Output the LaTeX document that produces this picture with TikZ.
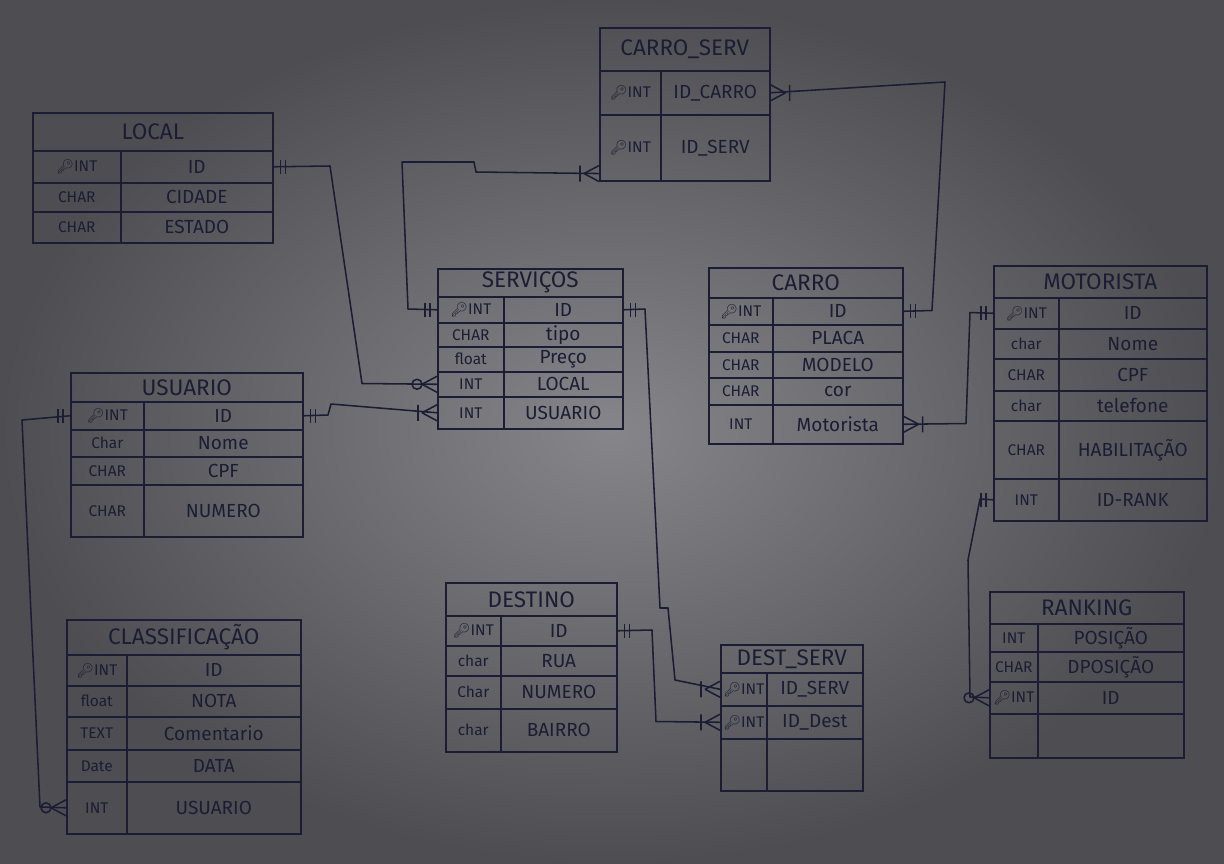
\documentclass[tikz,border=0pt]{standalone}
\usepackage{fontspec}
\setmainfont{Fira Sans}
\newfontfamily\emofont{Noto Emoji}
\usepackage{tikz}
\usetikzlibrary{arrows.meta,positioning,calc}
\definecolor{ink}{RGB}{28,28,52}
\definecolor{bgin}{RGB}{134,134,138}
\definecolor{bgout}{RGB}{78,78,82}
\newcommand{\pk}{{\emofont\fontsize{10}{10}\selectfont 🔑}}
\newcommand{\ehead}[6]{\node[hdr, minimum width={(#3-#2)*0.025cm}, minimum height={(#5-#4)*0.025cm}] (#1) at (#2,#4) {#6};}
\newcommand{\erow}[8]{\node[tcell, minimum width={(#3-#2)*0.025cm}, minimum height={(#6-#5)*0.025cm}] (#1-t) at (#2,#5) {#7};
  \node[fcell, minimum width={(#4-#3)*0.025cm}, minimum height={(#6-#5)*0.025cm}] (#1) at (#3,#5) {#8};}
\tikzset{
  hdr/.style={draw=ink, line width=1.1pt, inner sep=0pt, anchor=north west, text=ink, font=\fontsize{16}{17}\selectfont},
  tcell/.style={hdr, font=\fontsize{11}{12}\selectfont},
  fcell/.style={hdr, font=\fontsize{13.5}{15}\selectfont},
  link/.style={draw=ink, line width=1.1pt, line join=round},
  erone/.pic={\draw[link] (-7,-7)--(-7,7) (-12,-7)--(-12,7);},
  ermany/.pic={\draw[link] (-15,0)--(0,-8) (-15,0)--(0,8) (-19,-8)--(-19,8);},
  erzero/.pic={\draw[link] (-15,0)--(0,-8) (-15,0)--(0,8); \draw[link] (-20,0) circle[radius=5];},
}
\begin{document}
\begin{tikzpicture}[x=0.025cm, y=-0.025cm]
\shade[inner color=bgin, outer color=bgout] (0,0) rectangle (1224,863);
\useasboundingbox (0,0) rectangle (1224,863);

\ehead{loc}{32}{272}{112}{150}{LOCAL}
\erow{loc-id}{32}{120}{272}{150}{182}{\pk INT}{ID}
\erow{loc-cid}{32}{120}{272}{182}{211}{CHAR}{CIDADE}
\erow{loc-est}{32}{120}{272}{211}{242}{CHAR}{ESTADO}

\ehead{cs}{599}{769}{27}{70}{CARRO\_SERV}
\erow{cs-idc}{599}{660}{769}{70}{114}{\pk INT}{ID\_CARRO}
\erow{cs-ids}{599}{660}{769}{114}{180}{\pk INT}{ID\_SERV}

\ehead{srv}{437}{622}{268}{296}{SERVIÇOS}
\erow{srv-id}{437}{503}{622}{296}{322}{\pk INT}{ID}
\erow{srv-tipo}{437}{503}{622}{322}{346}{CHAR}{tipo}
\erow{srv-preco}{437}{503}{622}{346}{371}{float}{Preço}
\erow{srv-local}{437}{503}{622}{371}{396}{INT}{LOCAL}
\erow{srv-usu}{437}{503}{622}{396}{428}{INT}{USUARIO}

\ehead{car}{708}{902}{267}{297}{CARRO}
\erow{car-id}{708}{772}{902}{297}{324}{\pk INT}{ID}
\erow{car-placa}{708}{772}{902}{324}{351}{CHAR}{PLACA}
\erow{car-modelo}{708}{772}{902}{351}{377}{CHAR}{MODELO}
\erow{car-cor}{708}{772}{902}{377}{404}{CHAR}{cor}
\erow{car-mot}{708}{772}{902}{404}{443}{INT}{Motorista}

\ehead{mot}{993}{1206}{265}{297}{MOTORISTA}
\erow{mot-id}{993}{1058}{1206}{297}{328}{\pk INT}{ID}
\erow{mot-nome}{993}{1058}{1206}{328}{358}{char}{Nome}
\erow{mot-cpf}{993}{1058}{1206}{358}{390}{CHAR}{CPF}
\erow{mot-tel}{993}{1058}{1206}{390}{420}{char}{telefone}
\erow{mot-hab}{993}{1058}{1206}{420}{478}{CHAR}{HABILITAÇÃO}
\erow{mot-rank}{993}{1058}{1206}{478}{520}{INT}{ID-RANK}

\ehead{usu}{70}{302}{372}{401}{USUARIO}
\erow{usu-id}{70}{143}{302}{401}{429}{\pk INT}{ID}
\erow{usu-nome}{70}{143}{302}{429}{456}{Char}{Nome}
\erow{usu-cpf}{70}{143}{302}{456}{484}{CHAR}{CPF}
\erow{usu-num}{70}{143}{302}{484}{536}{CHAR}{NUMERO}

\ehead{cla}{66}{300}{619}{654}{CLASSIFICAÇÃO}
\erow{cla-id}{66}{126}{300}{654}{685}{\pk INT}{ID}
\erow{cla-nota}{66}{126}{300}{685}{716}{float}{NOTA}
\erow{cla-com}{66}{126}{300}{716}{749}{TEXT}{Comentario}
\erow{cla-data}{66}{126}{300}{749}{781}{Date}{DATA}
\erow{cla-usu}{66}{126}{300}{781}{833}{INT}{USUARIO}

\ehead{des}{445}{616}{582}{615}{DESTINO}
\erow{des-id}{445}{500}{616}{615}{645}{\pk INT}{ID}
\erow{des-rua}{445}{500}{616}{645}{675}{char}{RUA}
\erow{des-num}{445}{500}{616}{675}{708}{Char}{NUMERO}
\erow{des-bai}{445}{500}{616}{708}{751}{char}{BAIRRO}

\ehead{ds}{720}{862}{644}{672}{DEST\_SERV}
\erow{ds-srv}{720}{766}{862}{672}{705}{\pk INT}{ID\_SERV}
\erow{ds-dst}{720}{766}{862}{705}{738}{\pk INT}{ID\_Dest}
\erow{ds-nil}{720}{766}{862}{738}{790}{}{}

\ehead{rnk}{989}{1183}{591}{623}{RANKING}
\erow{rnk-pos}{989}{1037}{1183}{623}{651}{INT}{POSIÇÃO}
\erow{rnk-dpos}{989}{1037}{1183}{651}{681}{CHAR}{DPOSIÇÃO}
\erow{rnk-id}{989}{1037}{1183}{681}{713}{\pk INT}{ID}
\erow{rnk-nil}{989}{1037}{1183}{713}{757}{}{}

\draw[link] (loc-id.east) -- (330,166) -- (362,383.5) -- (srv-local-t.west);
\pic[xscale=-1] at (loc-id.east) {erone};
\pic at (srv-local-t.west) {erzero};

\draw[link] (srv-id-t.west) -- (408,309) -- (402,162) -- (474,162) -- (476,172) -- ([yshift=0.2cm]cs-ids-t.south west);
\pic at (srv-id-t.west) {erone};
\pic at ([yshift=0.2cm]cs-ids-t.south west) {ermany};

\draw[link] (cs-idc.east) -- (945,82) -- (932,310.5) -- (car-id.east);
\pic[xscale=-1] at (cs-idc.east) {ermany};
\pic[xscale=-1] at (car-id.east) {erone};

\draw[link] (car-mot.east) -- (966,423.5) -- (970,312.5) -- (mot-id-t.west);
\pic[xscale=-1] at (car-mot.east) {ermany};
\pic at (mot-id-t.west) {erone};

\draw[link] (mot-rank-t.west) -- (980,499) -- (968,560) -- (970,697) -- (rnk-id-t.west);
\pic at (mot-rank-t.west) {erone};
\pic at (rnk-id-t.west) {erzero};

\draw[link] (usu-id-t.west) -- (22,420) -- (40,807) -- (cla-usu-t.west);
\pic at (usu-id-t.west) {erone};
\pic at (cla-usu-t.west) {erzero};

\draw[link] (usu-id.east) -- (328,415) -- (331,404) -- (srv-usu-t.west);
\pic[xscale=-1] at (usu-id.east) {erone};
\pic at (srv-usu-t.west) {ermany};

\draw[link] (srv-id.east) -- (645,309) -- (660,608) -- (668,608) -- (675,680) -- (ds-srv-t.west);
\pic[xscale=-1] at (srv-id.east) {erone};
\pic at (ds-srv-t.west) {ermany};

\draw[link] (des-id.east) -- (652,630) -- (656,721.5) -- (ds-dst-t.west);
\pic[xscale=-1] at (des-id.east) {erone};
\pic at (ds-dst-t.west) {ermany};
\end{tikzpicture}
\end{document}
